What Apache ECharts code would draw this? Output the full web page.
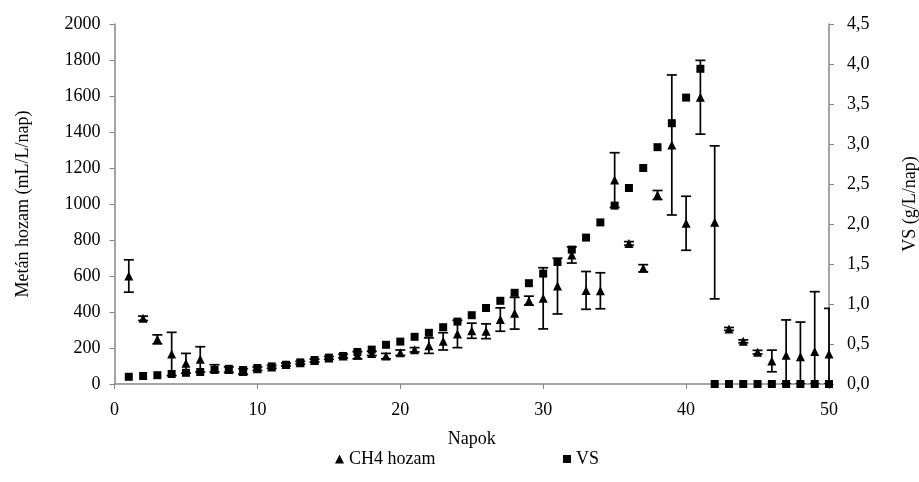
<!DOCTYPE html>
<html>
<head>
<meta charset="utf-8">
<script src="https://cdn.jsdelivr.net/npm/echarts@6/dist/echarts.min.js"></script>
<style>
  html, body { margin: 0; padding: 0; background: #fff; }
  #chart { width: 919px; height: 482px; }
</style>
</head>
<body>
<div id="chart"></div>
<script>
// napok (x)
const days = [];
for (let d = 1; d <= 50; d++) days.push(d);

// CH4 hozam (mL/L/nap) és szórás
const ch4 = [600, 365, 248, 167, 115, 137, 87, 80, 70, 85,
  95, 108, 118, 130, 145, 155, 160, 170, 155, 174,
  190, 213, 237, 278, 296, 293, 358, 393, 463, 476,
  544, 717, 520, 518, 1133, 781, 643, 1050, 1328, 893,
  1593, 898, 306, 237, 177, 128, 160, 152, 180, 167];
const ch4Err = [90, 12, 25, 120, 55, 70, 20, 15, 15, 10,
  8, 8, 8, 8, 8, 10, 20, 12, 15, 15,
  12, 43, 48, 76, 42, 41, 65, 88, 25, 170,
  155, 45, 105, 100, 152, 10, 20, 25, 389, 150,
  205, 425, 8, 8, 10, 60, 196, 192, 333, 253];

// VS (g/L/nap)
const vs = [0.09, 0.10, 0.11, 0.125, 0.14, 0.15, 0.175, 0.19, 0.175, 0.20,
  0.22, 0.24, 0.27, 0.30, 0.33, 0.35, 0.40, 0.43, 0.49, 0.53,
  0.59, 0.64, 0.71, 0.78, 0.86, 0.95, 1.04, 1.14, 1.26, 1.38,
  1.525, 1.68, 1.83, 2.02, 2.23, 2.45, 2.70, 2.96, 3.26, 3.58,
  3.94, 0, 0, 0, 0, 0, 0, 0, 0, 0];

const font = '"Liberation Serif", "Times New Roman", serif';
const fs = 18;
const axisColor = '#868686';
const txt = { fontFamily: font, fontSize: fs, color: '#000' };

const chart = echarts.init(document.getElementById('chart'));

const errData = days.map((d, i) => [d, ch4[i] - ch4Err[i], ch4[i] + ch4Err[i]]);

const option = {
  animation: false,
  textStyle: { fontFamily: font, color: '#000' },
  grid: { left: 114.5, right: 90, top: 24, bottom: 98, outerBoundsMode: 'none' },
  legend: [{
    top: 445, left: 330,
    itemWidth: 9, itemHeight: 9, itemGap: 0,
    textStyle: txt,
    data: [{ name: 'CH4 hozam', icon: 'triangle' }]
  }, {
    top: 445, left: 558,
    itemWidth: 8, itemHeight: 8, itemGap: 0,
    textStyle: txt,
    data: [{ name: 'VS', icon: 'rect' }]
  }],
  xAxis: {
    type: 'value',
    min: 0, max: 50, interval: 10,
    name: 'Napok',
    nameLocation: 'middle',
    nameGap: 46,
    nameTextStyle: txt,
    axisLine: { lineStyle: { color: axisColor, width: 1.5 } },
    axisTick: { lineStyle: { color: axisColor }, length: 5 },
    axisLabel: Object.assign({ margin: 17 }, txt),
    splitLine: { show: false }
  },
  yAxis: [{
    type: 'value',
    min: 0, max: 2000, interval: 200,
    name: 'Metán hozam (mL/L/nap)',
    nameLocation: 'middle',
    nameGap: 82,
    nameTextStyle: txt,
    axisLine: { show: true, lineStyle: { color: axisColor, width: 1.5 } },
    axisTick: { show: true, lineStyle: { color: axisColor }, length: 5 },
    axisLabel: Object.assign({ margin: 14, formatter: v => String(v) }, txt),
    splitLine: { show: false }
  }, {
    type: 'value',
    min: 0, max: 4.5, interval: 0.5,
    position: 'right',
    name: 'VS (g/L/nap)',
    nameLocation: 'middle',
    nameGap: 72,
    nameRotate: 90,
    nameTextStyle: txt,
    axisLine: { show: true, lineStyle: { color: axisColor, width: 1.5 } },
    axisTick: { show: true, lineStyle: { color: axisColor }, length: 5 },
    axisLabel: Object.assign({
      margin: 18,
      formatter: v => v.toFixed(1).replace('.', ',')
    }, txt),
    splitLine: { show: false }
  }],
  series: [{
    name: 'CH4 hiba',
    type: 'custom',
    yAxisIndex: 0,
    clip: true,
    z: 2,
    data: errData,
    renderItem: (params, api) => {
      const x = api.value(0);
      const lo = api.coord([x, Math.max(api.value(1), 0)]);
      const hi = api.coord([x, api.value(2)]);
      const cap = 5;
      const style = { stroke: '#000', lineWidth: 1.7 };
      return {
        type: 'group',
        children: [
          { type: 'line', shape: { x1: lo[0], y1: lo[1], x2: hi[0], y2: hi[1] }, style },
          { type: 'line', shape: { x1: hi[0] - cap, y1: hi[1], x2: hi[0] + cap, y2: hi[1] }, style },
          { type: 'line', shape: { x1: lo[0] - cap, y1: lo[1], x2: lo[0] + cap, y2: lo[1] }, style }
        ]
      };
    }
  }, {
    name: 'CH4 hozam',
    type: 'scatter',
    yAxisIndex: 0,
    symbol: 'triangle',
    symbolSize: 9,
    z: 3,
    itemStyle: { color: '#000', opacity: 1 },
    data: days.map((d, i) => [d, ch4[i]])
  }, {
    name: 'VS',
    type: 'scatter',
    yAxisIndex: 1,
    symbol: 'rect',
    symbolSize: 8,
    z: 4,
    itemStyle: { color: '#000', opacity: 1 },
    data: days.map((d, i) => [d, vs[i]])
  }]
};

chart.setOption(option);

window.addEventListener('resize', () => chart.resize());
</script>
</body>
</html>
